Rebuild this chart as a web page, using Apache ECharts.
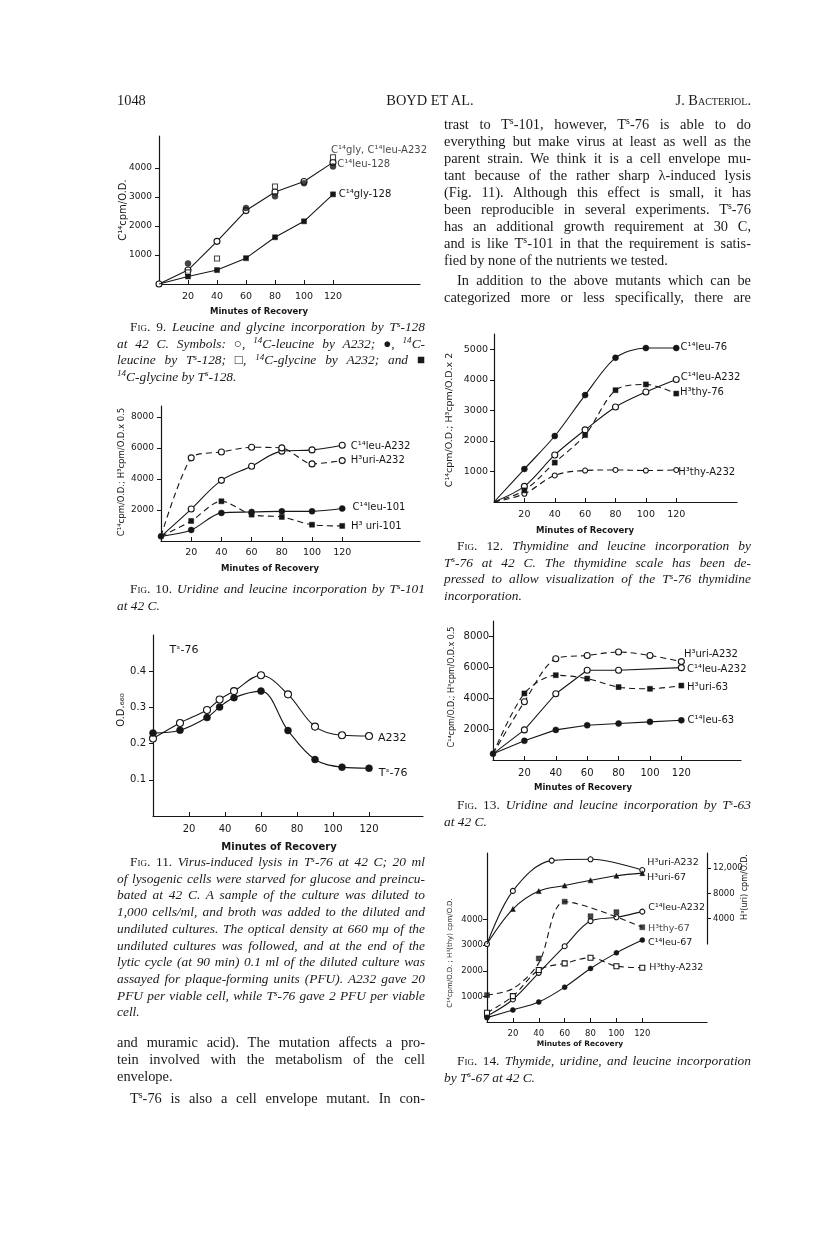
<!DOCTYPE html>
<html><head><meta charset="utf-8">
<script src="https://cdn.jsdelivr.net/npm/echarts@6/dist/echarts.min.js"></script>
<style>
html,body{margin:0;padding:0;background:#fff;}
#page{position:relative;width:816px;height:1250px;overflow:hidden;background:#fff;}
#chart{position:absolute;left:0;top:0;width:816px;height:1250px;}
.ln{position:absolute;white-space:nowrap;font-family:'Liberation Serif','Times New Roman',serif;color:#1a1a1a;}
.b{font-size:14.4px;line-height:17px;}
.c{font-size:13.4px;line-height:16px;}
.s{font-size:68%;position:relative;top:-0.45em;}
.sc{font-variant:small-caps;}
</style></head>
<body><div id="page"><div id="chart"></div></div>
<script>
// ---------------- DATA ----------------
const X_TICKS = [20,40,60,80,100,120];

const FIG9_MINUTES = [0,20,40,60,80,100,120];
const FIG9_LEU_A232 = [0,480,1470,2530,3170,3530,4190];
const FIG9_LEU128_MINUTES = [20,60,80,100,120];
const FIG9_LEU128 = [710,2620,3020,3470,4050];
const FIG9_GLY_A232_MINUTES = [20,40,80,120];
const FIG9_GLY_A232 = [400,880,3360,4370];
const FIG9_GLY128 = [0,260,480,890,1610,2160,3090];
const FIG9_Y_TICKS = [1000,2000,3000,4000];

const FIG10_MINUTES = [0,20,40,60,80,100,120];
const FIG10_LEU_A232 = [300,2060,3910,4820,5790,5870,6170];
const FIG10_URI_A232 = [300,5360,5740,6040,6000,4970,5180];
const FIG10_LEU101 = [300,710,1810,1870,1910,1910,2090];
const FIG10_URI101 = [300,1290,2560,1700,1550,1050,970];
const FIG10_Y_TICKS = [2000,4000,6000,8000];

const FIG11_MINUTES = [0,15,30,37,45,60,75,90,105,120];
const FIG11_A232 = [0.214,0.257,0.293,0.322,0.345,0.389,0.336,0.247,0.223,0.221];
const FIG11_TS76 = [0.229,0.237,0.272,0.301,0.327,0.345,0.236,0.156,0.135,0.132];
const FIG11_Y_TICKS = [0.1,0.2,0.3,0.4];

const FIG12_MINUTES = [0,20,40,60,80,100,120];
const FIG12_LEU76 = [0,1080,2160,3500,4720,5040,5040];
const FIG12_LEU_A232 = [0,510,1540,2360,3110,3600,4010];
const FIG12_THY76 = [0,380,1290,2190,3660,3850,3550];
const FIG12_THY_A232 = [0,270,870,1030,1050,1030,1050];
const FIG12_Y_TICKS = [1000,2000,3000,4000,5000];

const FIG13_MINUTES = [0,20,40,60,80,100,120];
const FIG13_URI_A232 = [400,3770,6560,6770,6990,6770,6370];
const FIG13_LEU_A232_MINUTES = [0,20,40,60,80,120];
const FIG13_LEU_A232 = [400,1950,4290,5810,5810,5980];
const FIG13_URI63 = [400,4310,5490,5270,4720,4610,4820];
const FIG13_LEU63 = [400,1240,1950,2250,2360,2470,2570];
const FIG13_Y_TICKS = [2000,4000,6000,8000];

const FIG14_MINUTES = [0,20,40,60,80,100,120];
const FIG14_URI_A232_MINUTES = [0,20,50,80,120];
const FIG14_URI_A232 = [0,8400,13200,13400,11700];
const FIG14_URI67 = [0,5530,8370,9250,10080,10800,11210];
const FIG14_LEU_A232 = [230,880,1920,2960,3940,4090,4310];
const FIG14_LEU67 = [170,470,780,1360,2090,2700,3200];
const FIG14_THY67_MINUTES = [0,40,60,80,100,120];
const FIG14_THY67 = [1050,2480,4700,4130,4290,3700];
const FIG14_THY67_TREND_MINUTES = [0,20,40,60,120];
const FIG14_THY67_TREND = [1050,1300,2300,4700,3700];
const FIG14_THY_A232 = [360,1010,2030,2290,2510,2180,2120];
const FIG14_Y_TICKS = [1000,2000,3000,4000];
const FIG14_URI_TICKS = [4000,8000,12000];

// ---------------- STYLE / LAYOUT ----------------
const INK = '#161616';
const FONT = 'DejaVu Sans';
// [left, top, width, height]
const GRIDS = [
  [159,136,261,148],
  [161,406,259,135],
  [153,635,270,181],
  [494,334,243,168],
  [493,621,248,139],
  [487,853,220,169],
  [487,853,220,91]
];
const plain = v => String(v);

function xAx(g, max, o){
  o = o || {};
  return {type:'value', gridIndex:g, min:0, max:max, show:o.show!==false,
    axisLine:{show:true,onZero:false,lineStyle:{color:INK,width:1.2}},
    axisTick:{show:true,inside:true,length:4,customValues:X_TICKS,lineStyle:{color:INK,width:1}},
    axisLabel:{show:true,customValues:X_TICKS,fontSize:o.fs||9.5,color:INK,fontFamily:FONT,margin:o.m||8,formatter:plain},
    splitLine:{show:false}};
}
function yAx(g, max, ticks, o){
  o = o || {};
  const lab = {show:true,customValues:ticks,fontSize:o.fs||9,color:INK,fontFamily:FONT,margin:o.m||6,
    formatter:o.fmt || plain};
  return {type:'value', gridIndex:g, min:0, max:max, position:o.pos||'left',
    axisLine:{show:true,onZero:false,lineStyle:{color:INK,width:1.2}},
    axisTick:{show:true,inside:false,length:4,customValues:ticks,lineStyle:{color:INK,width:1}},
    axisLabel:lab, splitLine:{show:false}};
}
function pts(xs, ys){ return xs.map((x,i)=>[x, ys[i]]); }
function mk(o){
  const p = pts(o.x, o.y), last = p.length-1;
  const data = p.map((v,i)=>{
    const it = {value:v};
    if (o.hideFirst && i===0) it.symbol = 'none';
    if (o.label && i===last) it.label = {show:true, position:'right', distance:5,
      offset:o.off||[0,0], formatter:o.label, color:INK, fontSize:o.fs||10, fontFamily:FONT};
    return it;
  });
  const s = {
    type: o.line===false ? 'scatter' : 'line',
    xAxisIndex:o.g, yAxisIndex:o.g, data:data,
    symbol:o.sym||'circle', symbolSize:o.size||6,
    itemStyle: o.open ? {color:'#fff', borderColor:INK, borderWidth:1.1}
                      : {color:INK, borderColor:INK, borderWidth:0.5},
    label:{show:false}, clip:false, silent:true, animation:false,
    z: o.open ? 3 : 4
  };
  if (s.type === 'line'){
    s.smooth = o.smooth || false;
    s.lineStyle = {color:INK, width:1.1, type:o.dash ? [6,4] : 'solid'};
    if (o.noSym){ s.symbol = 'none'; s.showSymbol = false; }
    else s.showSymbol = true;
  }
  return s;
}
function gtext(x, y, text, fs, rot, bold){
  return {type:'text', x:x, y:y, rotation: rot ? Math.PI/2 : 0, silent:true,
    style:{text:text, fontSize:fs, fontFamily:FONT, fontWeight: bold ? 'bold' : 'normal',
      fill:INK, align:'center', verticalAlign:'middle'}};
}

const series = [
  // Fig 9
  mk({g:0, x:FIG9_MINUTES, y:FIG9_LEU_A232, open:true}),
  mk({g:0, x:FIG9_LEU128_MINUTES, y:FIG9_LEU128, line:false, label:'C¹⁴leu-128', off:[-4,-2.5]}),
  mk({g:0, x:FIG9_GLY_A232_MINUTES, y:FIG9_GLY_A232, line:false, open:true, sym:'rect', size:5, label:'C¹⁴gly, C¹⁴leu-A232', off:[-10,-7]}),
  mk({g:0, x:FIG9_MINUTES, y:FIG9_GLY128, sym:'rect', size:5, label:'C¹⁴gly-128', off:[-2,0], hideFirst:true}),
  // Fig 10
  mk({g:1, x:FIG10_MINUTES, y:FIG10_LEU_A232, open:true, smooth:0.35, label:'C¹⁴leu-A232', off:[0,1], hideFirst:true}),
  mk({g:1, x:FIG10_MINUTES, y:FIG10_URI_A232, open:true, dash:true, smooth:0.25, label:'H³uri-A232', off:[0,0], hideFirst:true}),
  mk({g:1, x:FIG10_MINUTES, y:FIG10_URI101, dash:true, sym:'rect', size:5, smooth:0.3, label:'H³ uri-101', off:[1,0], hideFirst:true}),
  mk({g:1, x:FIG10_MINUTES, y:FIG10_LEU101, smooth:0.3, label:'C¹⁴leu-101', off:[2,-1.5]}),
  // Fig 11
  mk({g:2, x:FIG11_MINUTES, y:FIG11_A232, open:true, smooth:0.35, size:7, label:'A232', fs:11, off:[0,2]}),
  mk({g:2, x:FIG11_MINUTES, y:FIG11_TS76, smooth:0.35, size:7, label:'Tˢ-76', fs:11, off:[1,5]}),
  // Fig 12
  mk({g:3, x:FIG12_MINUTES, y:FIG12_LEU76, smooth:0.3, label:'C¹⁴leu-76', off:[-4,-1], hideFirst:true}),
  mk({g:3, x:FIG12_MINUTES, y:FIG12_LEU_A232, open:true, smooth:0.3, label:'C¹⁴leu-A232', off:[-4,-2.5], hideFirst:true}),
  mk({g:3, x:FIG12_MINUTES, y:FIG12_THY76, dash:true, sym:'rect', size:5, smooth:0.3, label:'H³thy-76', off:[-4,-1.5], hideFirst:true}),
  mk({g:3, x:FIG12_MINUTES, y:FIG12_THY_A232, open:true, dash:true, size:5, smooth:0.35, label:'H³thy-A232', off:[-6,2], hideFirst:true}),
  // Fig 13
  mk({g:4, x:FIG13_MINUTES, y:FIG13_URI_A232, open:true, dash:true, smooth:0.3, label:'H³uri-A232', off:[-6,-7.5], hideFirst:true}),
  mk({g:4, x:FIG13_LEU_A232_MINUTES, y:FIG13_LEU_A232, open:true, label:'C¹⁴leu-A232', off:[-3,1.3], hideFirst:true}),
  mk({g:4, x:FIG13_MINUTES, y:FIG13_URI63, dash:true, sym:'rect', size:5, smooth:0.3, label:'H³uri-63', off:[-2,1.4], hideFirst:true}),
  mk({g:4, x:FIG13_MINUTES, y:FIG13_LEU63, label:'C¹⁴leu-63', off:[-2,0]}),
  // Fig 14 (left scale)
  mk({g:5, x:FIG14_MINUTES, y:FIG14_LEU_A232, open:true, size:5, smooth:0.35, label:'C¹⁴leu-A232', off:[-2,-3.7], fs:9.5}),
  mk({g:5, x:FIG14_MINUTES, y:FIG14_LEU67, size:5, smooth:0.35, label:'C¹⁴leu-67', off:[-2,2], fs:9.5}),
  mk({g:5, x:FIG14_THY67_TREND_MINUTES, y:FIG14_THY67_TREND, dash:true, noSym:true, smooth:0.3}),
  mk({g:5, x:FIG14_THY67_MINUTES, y:FIG14_THY67, line:false, sym:'rect', size:5, label:'H³thy-67', off:[-2,1.7], fs:9.5}),
  mk({g:5, x:FIG14_MINUTES, y:FIG14_THY_A232, open:true, dash:true, sym:'rect', size:5, smooth:0.35, label:'H³thy-A232', off:[-1,0], fs:9.5}),
  // Fig 14 (right, uridine scale)
  mk({g:6, x:FIG14_URI_A232_MINUTES, y:FIG14_URI_A232, open:true, size:5, smooth:0.35, label:'H³uri-A232', off:[-3,-8], fs:9.5}),
  mk({g:6, x:FIG14_MINUTES, y:FIG14_URI67, sym:'triangle', size:5, smooth:0.35, label:'H³uri-67', off:[-3,4], fs:9.5, hideFirst:true})
];

const option = {
  animation:false,
  backgroundColor:'#fff',
  textStyle:{fontFamily:FONT},
  grid: GRIDS.map(g=>({left:g[0], top:g[1], width:g[2], height:g[3]})),
  xAxis: [
    xAx(0,180), xAx(1,171.5,{m:7}), xAx(2,150,{fs:10}), xAx(3,160), xAx(4,158,{fs:10}),
    xAx(5,170,{fs:8.5,m:7}), xAx(6,170,{show:false})
  ],
  yAxis: [
    yAx(0,5100,FIG9_Y_TICKS,{m:7}),
    yAx(1,8700,FIG10_Y_TICKS,{m:7}),
    yAx(2,0.5,FIG11_Y_TICKS,{fs:10,m:7,fmt:v=>v.toFixed(1)}),
    yAx(3,5500,FIG12_Y_TICKS,{fs:9.5,m:6}),
    yAx(4,9000,FIG13_Y_TICKS,{fs:10,m:4}),
    yAx(5,6600,FIG14_Y_TICKS,{fs:8.5,m:4}),
    yAx(6,14400,FIG14_URI_TICKS,{pos:'right',fs:8.5,m:6,fmt:v=>v===12000?'12,000':String(v)})
  ],
  series: series,
  graphic:{elements:[
    gtext(259,312,'Minutes of Recovery',8.5,false,true),
    gtext(270,569,'Minutes of Recovery',8.5,false,true),
    gtext(279,847,'Minutes of Recovery',10,false,true),
    gtext(585,531,'Minutes of Recovery',8.5,false,true),
    gtext(583,788,'Minutes of Recovery',8.5,false,true),
    gtext(580,1044,'Minutes of Recovery',7.5,false,true),
    gtext(123,210,'C¹⁴cpm/O.D.',10,true),
    gtext(122,472,'C¹⁴cpm/O.D.; H³cpm/O.D.x 0.5',8.5,true),
    gtext(121,710,'O.D.₆₆₀',10,true),
    gtext(450,420,'C¹⁴cpm/O.D.; H³cpm/O.D.x 2',9.5,true),
    gtext(452,687,'C¹⁴cpm/O.D.; H³cpm/O.D.x 0.5',8,true),
    gtext(450,953,'C¹⁴cpm/O.D. ; H³(thy) cpm/O.D.',7,true),
    gtext(745,887,'H³(uri) cpm/O.D.',8,true),
    gtext(184,650,'Tˢ-76',11,false)
  ]}
};
const chart = echarts.init(document.getElementById('chart'), null, {renderer:'canvas'});
chart.setOption(option);

// ---------------- PAGE TEXT ----------------
const S = '<span class="s">s</span>';
const C14 = '<span class="s">14</span>C';
const FIG = n => 'F<span class="sc">ig</span>. ' + n + '. ';
const Lx = 117, LW = 308, Rx = 444, RW = 307, IND = 13;
// [x, yCenter, width, html, justify, class]
const LINES = [
  [Lx, 100, 0, '1048', false, 'b'],
  // right column body
  [Rx, 124, RW, 'trast to T'+S+'-101, however, T'+S+'-76 is able to do', true, 'b'],
  [Rx, 141, RW, 'everything but make virus at least as well as the', true, 'b'],
  [Rx, 158, RW, 'parent strain. We think it is a cell envelope mu-', true, 'b'],
  [Rx, 175, RW, 'tant because of the rather sharp λ-induced lysis', true, 'b'],
  [Rx, 192, RW, '(Fig. 11). Although this effect is small, it has', true, 'b'],
  [Rx, 209, RW, 'been reproducible in several experiments. T'+S+'-76', true, 'b'],
  [Rx, 226, RW, 'has an additional growth requirement at 30 C,', true, 'b'],
  [Rx, 243, RW, 'and is like T'+S+'-101 in that the requirement is satis-', true, 'b'],
  [Rx, 260, RW, 'fied by none of the nutrients we tested.', false, 'b'],
  [Rx+IND, 280, RW-IND, 'In addition to the above mutants which can be', true, 'b'],
  [Rx, 297, RW, 'categorized more or less specifically, there are', true, 'b'],
  // Fig 12 caption
  [Rx+IND, 546, RW-IND, FIG(12)+'<i>Thymidine and leucine incorporation by</i>', true, 'c'],
  [Rx, 562.5, RW, '<i>T'+S+'-76 at 42 C. The thymidine scale has been de-</i>', true, 'c'],
  [Rx, 579, RW, '<i>pressed to allow visualization of the T'+S+'-76 thymidine</i>', true, 'c'],
  [Rx, 595.5, RW, '<i>incorporation.</i>', false, 'c'],
  // Fig 13 caption
  [Rx+IND, 805, RW-IND, FIG(13)+'<i>Uridine and leucine incorporation by T'+S+'-63</i>', true, 'c'],
  [Rx, 821.5, RW, '<i>at 42 C.</i>', false, 'c'],
  // Fig 14 caption
  [Rx+IND, 1061, RW-IND, FIG(14)+'<i>Thymide, uridine, and leucine incorporation</i>', true, 'c'],
  [Rx, 1077.5, RW, '<i>by T'+S+'-67 at 42 C.</i>', false, 'c'],
  // Fig 9 caption
  [Lx+IND, 327, LW-IND, FIG(9)+'<i>Leucine and glycine incorporation by T'+S+'-128</i>', true, 'c'],
  [Lx, 343.5, LW, '<i>at 42 C. Symbols: </i>○<i>, '+C14+'-leucine by A232; </i>●<i>, '+C14+'-</i>', true, 'c'],
  [Lx, 360, LW, '<i>leucine by T'+S+'-128; </i>□<i>, '+C14+'-glycine by A232; and </i>■', true, 'c'],
  [Lx, 376.5, LW, '<i>'+C14+'-glycine by T'+S+'-128.</i>', false, 'c'],
  // Fig 10 caption
  [Lx+IND, 589, LW-IND, FIG(10)+'<i>Uridine and leucine incorporation by T'+S+'-101</i>', true, 'c'],
  [Lx, 605.5, LW, '<i>at 42 C.</i>', false, 'c'],
  // Fig 11 caption
  [Lx+IND, 862, LW-IND, FIG(11)+'<i>Virus-induced lysis in T'+S+'-76 at 42 C; 20 ml</i>', true, 'c'],
  [Lx, 878.7, LW, '<i>of lysogenic cells were starved for glucose and preincu-</i>', true, 'c'],
  [Lx, 895.4, LW, '<i>bated at 42 C. A sample of the culture was diluted to</i>', true, 'c'],
  [Lx, 912.1, LW, '<i>1,000 cells/ml, and broth was added to the diluted and</i>', true, 'c'],
  [Lx, 928.8, LW, '<i>undiluted cultures. The optical density at 660 mμ of the</i>', true, 'c'],
  [Lx, 945.5, LW, '<i>undiluted cultures was followed, and at the end of the</i>', true, 'c'],
  [Lx, 962.2, LW, '<i>lytic cycle (at 90 min) 0.1 ml of the diluted culture was</i>', true, 'c'],
  [Lx, 978.9, LW, '<i>assayed for plaque-forming units (PFU). A232 gave 20</i>', true, 'c'],
  [Lx, 995.6, LW, '<i>PFU per viable cell, while T'+S+'-76 gave 2 PFU per viable</i>', true, 'c'],
  [Lx, 1012.3, LW, '<i>cell.</i>', false, 'c'],
  // left body
  [Lx, 1042, LW, 'and muramic acid). The mutation affects a pro-', true, 'b'],
  [Lx, 1059, LW, 'tein involved with the metabolism of the cell', true, 'b'],
  [Lx, 1076, LW, 'envelope.', false, 'b'],
  [Lx+IND, 1098, LW-IND, 'T'+S+'-76 is also a cell envelope mutant. In con-', true, 'b']
];
const page = document.getElementById('page');
const made = [];
LINES.forEach(l => {
  const d = document.createElement('div');
  d.className = 'ln ' + l[5];
  d.innerHTML = l[3];
  const lh = l[5] === 'b' ? 17 : 16;
  d.style.left = l[0] + 'px';
  d.style.top = (l[1] - lh/2) + 'px';
  page.appendChild(d);
  made.push([d, l]);
});
// running head: centred and right-aligned items
function head(html, cx, align){
  const d = document.createElement('div');
  d.className = 'ln b';
  d.innerHTML = html;
  d.style.top = (100 - 8.5) + 'px';
  page.appendChild(d);
  const w = d.getBoundingClientRect().width;
  d.style.left = (align === 'c' ? cx - w/2 : cx - w) + 'px';
}
head('BOYD ET AL.', 430, 'c');
head('J. B<span class="sc">acteriol</span>.', 751, 'r');

function justify(){
  made.forEach(([d, l]) => {
    if (!l[4]) return;
    d.style.wordSpacing = '0px';
    const nat = d.getBoundingClientRect().width;
    const sp = (d.textContent.match(/ /g) || []).length;
    if (sp > 0) d.style.wordSpacing = ((l[2] - nat) / sp) + 'px';
  });
}
justify();
if (document.fonts && document.fonts.ready) document.fonts.ready.then(justify);
</script>
</body></html>
